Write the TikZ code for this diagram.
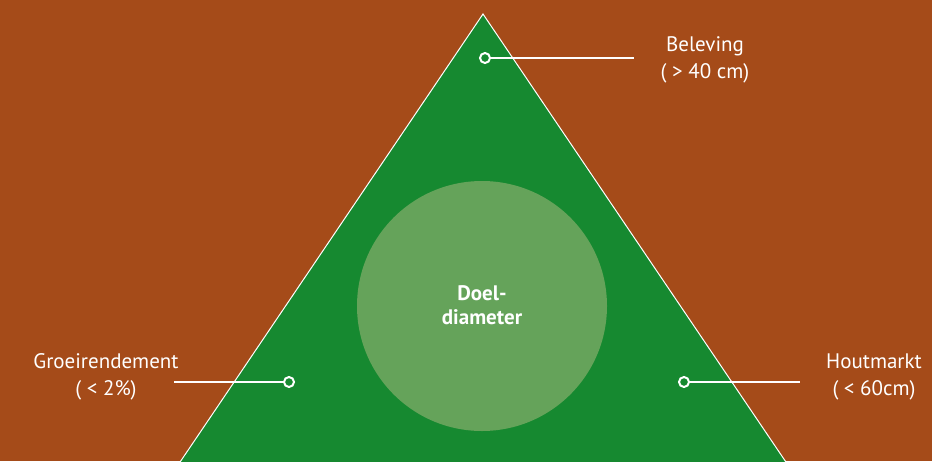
\documentclass[tikz,border=0pt]{standalone}
\usepackage{fontspec}
\setmainfont{PT Sans}
\definecolor{bgbrown}{RGB}{165,75,25}
\definecolor{trigreen}{RGB}{22,137,48}
\definecolor{circgreen}{RGB}{101,163,90}
\begin{document}
\begin{tikzpicture}[x=1pt,y=-1pt,
  lbl/.style={text=white,font=\fontsize{21}{27}\selectfont,align=center,inner sep=0pt},
  marker/.style={circle,draw=white,line width=2pt,fill=trigreen,minimum size=10pt,inner sep=0pt},
  lead/.style={draw=white,line width=2pt}]
\useasboundingbox (0,0) rectangle (932,461);
\clip (0,0) rectangle (932,461);
\fill[bgbrown] (0,0) rectangle (932,461);
\coordinate (apex) at (483,14);
\coordinate (bl) at (151,505);
\coordinate (br) at (815,505);
\filldraw[fill=trigreen,draw=white,line width=1pt] (apex) -- (bl) -- (br) -- cycle;
\node[circle,fill=circgreen,minimum size=250pt,inner sep=0pt] (c) at (482,306) {};
\node[text=white,font=\fontsize{21}{24}\selectfont\bfseries,align=center,inner sep=0pt] (dl) at (482,305) {Doel-\\diameter};
% leaders
\coordinate (t1) at (634,58);
\coordinate (l1) at (174,382);
\coordinate (r1) at (800,382);
\node[marker] (mt) at (485,58) {};
\node[marker] (ml) at (289,382) {};
\node[marker] (mr) at (684,382) {};
\draw[lead] (mt) -- (t1);
\draw[lead] (ml) -- (l1);
\draw[lead] (mr) -- (r1);
\node[lbl] (bel) at (705,60) {Beleving\\( > 40 cm)};
\node[lbl] (gro) at (106,377) {Groeirendement\\( < 2\%)};
\node[lbl] (hou) at (874,377) {Houtmarkt\\( < 60cm)};
\end{tikzpicture}
\end{document}
